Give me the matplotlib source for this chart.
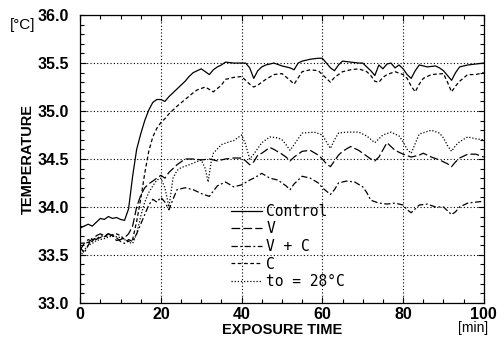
import matplotlib
matplotlib.use('Agg')
import matplotlib.pyplot as plt
from matplotlib.ticker import MultipleLocator, FormatStrFormatter

# exposure time [min] and temperature [degC]
t_control = [0, 1, 2, 3, 4, 5, 6, 7, 8, 9, 10, 11, 12, 13, 14, 15, 16, 17, 18, 19, 20, 21,
             22, 23, 24, 25, 26, 27, 28, 29, 30, 31, 32, 33, 34, 35, 36, 38, 40, 41, 42, 43,
             44, 45, 46, 48, 50, 51, 52, 53, 54, 55, 57, 59, 60, 61, 62, 63, 64, 65, 67, 69,
             70, 71, 72, 73, 74, 75, 76, 77, 78, 79, 80, 81, 82, 83, 84, 86, 88, 89, 90, 91,
             92, 93, 94, 96, 98, 100]
control = [33.78, 33.80, 33.82, 33.80, 33.84, 33.88, 33.87, 33.90, 33.88, 33.89, 33.87, 33.86,
           33.98, 34.32, 34.60, 34.76, 34.90, 35.01, 35.09, 35.12, 35.12, 35.10, 35.15, 35.19,
           35.23, 35.27, 35.31, 35.36, 35.40, 35.42, 35.44, 35.41, 35.38, 35.43, 35.46, 35.48,
           35.51, 35.50, 35.50, 35.50, 35.45, 35.34, 35.42, 35.46, 35.48, 35.50, 35.47, 35.46,
           35.45, 35.43, 35.50, 35.52, 35.54, 35.55, 35.55, 35.50, 35.45, 35.42, 35.48, 35.52,
           35.51, 35.50, 35.50, 35.46, 35.42, 35.37, 35.48, 35.44, 35.49, 35.50, 35.45, 35.48,
           35.44, 35.38, 35.34, 35.42, 35.48, 35.46, 35.47, 35.45, 35.42, 35.37, 35.32, 35.40,
           35.46, 35.48, 35.49, 35.50]

t_v = [0, 1, 2, 3, 4, 5, 6, 7, 8, 9, 10, 11, 12, 13, 14, 15, 16, 17, 18, 19, 20, 21, 22, 23,
       24, 25, 26, 28, 30, 32, 34, 36, 38, 40, 41, 42, 43, 44, 45, 47, 48, 50, 51, 52, 53, 55,
       57, 59, 60, 61, 62, 63, 64, 65, 67, 69, 71, 72, 73, 74, 76, 78, 80, 82, 84, 85, 87, 89,
       91, 92, 93, 94, 96, 98, 100]
v = [33.55, 33.62, 33.66, 33.64, 33.70, 33.72, 33.70, 33.72, 33.70, 33.65, 33.66, 33.68, 33.72,
     33.80, 34.00, 34.12, 34.20, 34.24, 34.27, 34.30, 34.33, 34.30, 34.36, 34.40, 34.44, 34.47,
     34.50, 34.50, 34.49, 34.50, 34.48, 34.50, 34.51, 34.51, 34.48, 34.44, 34.47, 34.54, 34.56,
     34.62, 34.60, 34.55, 34.52, 34.48, 34.52, 34.58, 34.59, 34.54, 34.50, 34.45, 34.42, 34.48,
     34.54, 34.58, 34.63, 34.59, 34.53, 34.50, 34.48, 34.52, 34.67, 34.59, 34.55, 34.52, 34.54,
     34.56, 34.52, 34.49, 34.45, 34.42, 34.47, 34.51, 34.55, 34.55, 34.52]

t_vc = [0, 1, 2, 3, 4, 5, 6, 7, 8, 9, 10, 11, 12, 13, 14, 15, 16, 17, 18, 19, 20, 21, 22, 23,
        24, 26, 28, 30, 32, 34, 36, 38, 40, 42, 43, 45, 47, 49, 51, 52, 53, 55, 57, 59, 60, 62,
        63, 64, 66, 68, 70, 71, 72, 74, 76, 78, 80, 81, 82, 83, 84, 86, 88, 90, 91, 92, 93, 94,
        96, 98, 100]
vc = [33.58, 33.52, 33.60, 33.68, 33.66, 33.70, 33.69, 33.72, 33.70, 33.68, 33.64, 33.62, 33.66,
      33.64, 33.72, 33.82, 33.92, 34.02, 34.08, 34.05, 34.10, 34.05, 33.97, 34.08, 34.18, 34.20,
      34.18, 34.14, 34.11, 34.22, 34.26, 34.21, 34.23, 34.28, 34.30, 34.35, 34.30, 34.28, 34.22,
      34.18, 34.24, 34.32, 34.30, 34.25, 34.20, 34.13, 34.18, 34.25, 34.27, 34.26, 34.21, 34.15,
      34.07, 34.04, 34.03, 34.04, 34.02, 33.97, 33.94, 33.98, 34.02, 34.03, 34.00, 34.00, 33.96,
      33.92, 33.95, 34.00, 34.04, 34.05, 34.06]

t_c = [0, 2, 3, 5, 7, 9, 10, 11, 12, 13, 14, 15, 16, 17, 18, 19, 20, 21, 22, 24, 26, 28, 29, 31,
       33, 35, 36, 38, 40, 41, 42, 43, 44, 46, 48, 50, 52, 53, 55, 57, 59, 60, 62, 63, 65, 67,
       69, 71, 72, 73, 74, 75, 76, 78, 80, 81, 82, 83, 84, 85, 87, 90, 91, 92, 93, 94, 96, 98,
       100]
c = [33.62, 33.63, 33.66, 33.68, 33.70, 33.72, 33.70, 33.66, 33.64, 33.66, 33.85, 34.08, 34.35,
     34.58, 34.73, 34.82, 34.88, 34.92, 34.97, 35.05, 35.12, 35.19, 35.22, 35.25, 35.20, 35.27,
     35.33, 35.35, 35.36, 35.32, 35.28, 35.25, 35.27, 35.33, 35.38, 35.39, 35.32, 35.28, 35.41,
     35.43, 35.42, 35.38, 35.30, 35.35, 35.41, 35.43, 35.44, 35.41, 35.37, 35.31, 35.30, 35.35,
     35.38, 35.41, 35.38, 35.34, 35.26, 35.20, 35.28, 35.34, 35.38, 35.39, 35.30, 35.20, 35.26,
     35.31, 35.38, 35.38, 35.40]

t_t28 = [0, 1, 2, 3, 4, 6, 8, 10, 11, 12, 13, 14, 15, 16, 17, 18, 19, 20, 21, 22, 23, 24, 25, 27,
         30, 31, 31.7, 32.5, 33, 35, 37, 38, 40, 41, 42, 43, 45, 47, 49, 50, 51, 52, 53, 55, 58,
         60, 61, 62, 63, 64, 66, 69, 71, 73, 75, 77, 79, 80, 81, 82, 83, 84, 87, 89, 90, 91, 92,
         93, 94, 96, 98, 100]
t28 = [33.48, 33.55, 33.60, 33.62, 33.65, 33.67, 33.70, 33.68, 33.66, 33.63, 33.62, 33.72, 33.90,
       34.05, 34.15, 34.22, 34.28, 34.30, 34.20, 34.00, 34.30, 34.38, 34.41, 34.44, 34.49, 34.40,
       34.26, 34.48, 34.56, 34.65, 34.68, 34.69, 34.75, 34.65, 34.50, 34.55, 34.67, 34.73, 34.72,
       34.70, 34.65, 34.59, 34.65, 34.77, 34.78, 34.75, 34.68, 34.61, 34.70, 34.77, 34.78, 34.78,
       34.74, 34.67, 34.75, 34.78, 34.74, 34.68, 34.60, 34.56, 34.66, 34.76, 34.80, 34.77, 34.72,
       34.64, 34.58, 34.64, 34.68, 34.73, 34.71, 34.70]

labels = ['Control', 'V', 'V + C', 'C', 'to = 28\u00b0C']

fig = plt.figure(figsize=(5.04, 3.43), dpi=100)
ax = fig.add_axes([0.159, 0.117, 0.801, 0.839])

lw = 0.9
ax.plot(t_control, control, color='black', lw=lw, label=labels[0])
ax.plot(t_v, v, color='black', lw=lw, dashes=(7, 2.5), label=labels[1])
ax.plot(t_vc, vc, color='black', lw=lw, dashes=(5, 2, 1.5, 2), label=labels[2])
ax.plot(t_c, c, color='black', lw=lw, dashes=(3, 2), label=labels[3])
ax.plot(t_t28, t28, color='black', lw=lw, dashes=(1, 1.5), label=labels[4])

ax.set_xlim(0, 100)
ax.set_ylim(33.0, 36.0)
ax.xaxis.set_major_locator(MultipleLocator(20))
ax.xaxis.set_minor_locator(MultipleLocator(5))
ax.yaxis.set_major_locator(MultipleLocator(0.5))
ax.yaxis.set_minor_locator(MultipleLocator(0.1))
ax.yaxis.set_major_formatter(FormatStrFormatter('%.1f'))
ax.tick_params(which='both', direction='in', top=True, right=True, width=0.8)
ax.tick_params(which='major', length=4)
ax.tick_params(which='minor', length=3)
ax.tick_params(axis='y', pad=8)
ax.tick_params(axis='x', pad=3)
for lab in ax.get_xticklabels() + ax.get_yticklabels():
    lab.set_fontfamily('Liberation Sans')
    lab.set_fontweight('bold')
    lab.set_fontsize(11.5)
ax.grid(True, which='major', color='black', linestyle=(0, (1, 2)), lw=0.8)
for s in ax.spines.values():
    s.set_linewidth(0.9)

ax.set_ylabel('TEMPERATURE', fontfamily='Liberation Sans', fontweight='bold', fontsize=10.5, labelpad=2)
ax.set_xlabel('EXPOSURE TIME', fontfamily='Liberation Sans', fontweight='bold', fontsize=10.5, labelpad=1)
fig.text(0.020, 0.927, '[\u00b0C]', fontfamily='Liberation Sans', fontsize=11, va='center', ha='left')
fig.text(0.968, 0.045, '[min]', fontfamily='Liberation Sans', fontsize=10, va='center', ha='right')

leg = ax.legend(loc='upper left', bbox_to_anchor=(0.36, 0.365), frameon=False,
                handlelength=2.1, handletextpad=0.3, labelspacing=0.18, borderaxespad=0,
                prop={'family': 'DejaVu Sans Mono', 'size': 10.5})

fig.savefig('out.png', dpi=100)
